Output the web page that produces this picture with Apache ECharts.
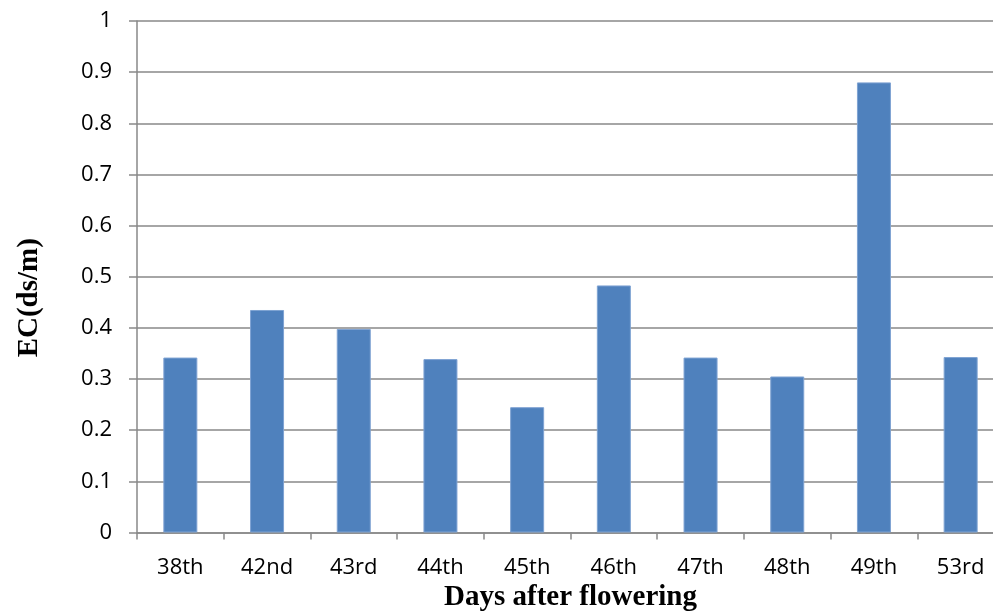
<!DOCTYPE html>
<html>
<head>
<meta charset="utf-8">
<script src="https://cdn.jsdelivr.net/npm/echarts@6/dist/echarts.min.js"></script>
<style>
  html, body { margin: 0; padding: 0; background: #fff; }
  #chart { width: 993px; height: 614px; }
</style>
</head>
<body>
<div id="chart"></div>
<script>
// Electrical conductivity by day after flowering
const days = ['38th', '42nd', '43rd', '44th', '45th', '46th', '47th', '48th', '49th', '53rd'];
const ecValues = [0.342, 0.435, 0.398, 0.339, 0.245, 0.483, 0.342, 0.305, 0.880, 0.343];
const yTicks = [0, 0.1, 0.2, 0.3, 0.4, 0.5, 0.6, 0.7, 0.8, 0.9, 1];

const chart = echarts.init(document.getElementById('chart'));
const axisGray = '#898989';
const labelFont = { fontFamily: '"Open Sans", "Noto Sans", sans-serif', fontSize: 22, color: '#000' };
const titleFont = { fontFamily: '"Liberation Serif", "DejaVu Serif", serif', fontWeight: 'bold', fontSize: 29, color: '#000' };

chart.setOption({
  animation: false,
  grid: { left: 137, top: 21, width: 867, height: 511.5, containLabel: false, outerBoundsMode: 'none' },
  xAxis: {
    type: 'category',
    data: days,
    name: 'Days after flowering',
    nameLocation: 'middle',
    nameGap: 50,
    nameTextStyle: titleFont,
    axisLine: { lineStyle: { color: axisGray, width: 1.5 } },
    axisTick: { show: true, length: 7, lineStyle: { color: axisGray, width: 1.5 } },
    axisLabel: Object.assign({ margin: 24 }, labelFont)
  },
  yAxis: {
    type: 'value',
    min: yTicks[0],
    max: yTicks[yTicks.length - 1],
    interval: 0.1,
    name: 'EC(ds/m)',
    nameLocation: 'middle',
    nameGap: 93,
    // title sits a little below the axis midpoint
    nameTextStyle: Object.assign({ padding: [0, 42, 0, 0] }, titleFont),
    axisLine: { show: true, lineStyle: { color: axisGray, width: 1.5 } },
    axisTick: { show: true, length: 8, lineStyle: { color: axisGray, width: 1.5 } },
    splitLine: { show: true, lineStyle: { color: axisGray, width: 1.5 } },
    axisLabel: Object.assign({
      margin: 25,
      formatter: v => String(Math.round(v * 10) / 10)
    }, labelFont)
  },
  series: [{
    type: 'bar',
    data: ecValues,
    barWidth: 34,
    itemStyle: { color: '#4F81BD', borderColor: '#7fa3d3', borderWidth: 1 }
  }]
});
</script>
</body>
</html>
